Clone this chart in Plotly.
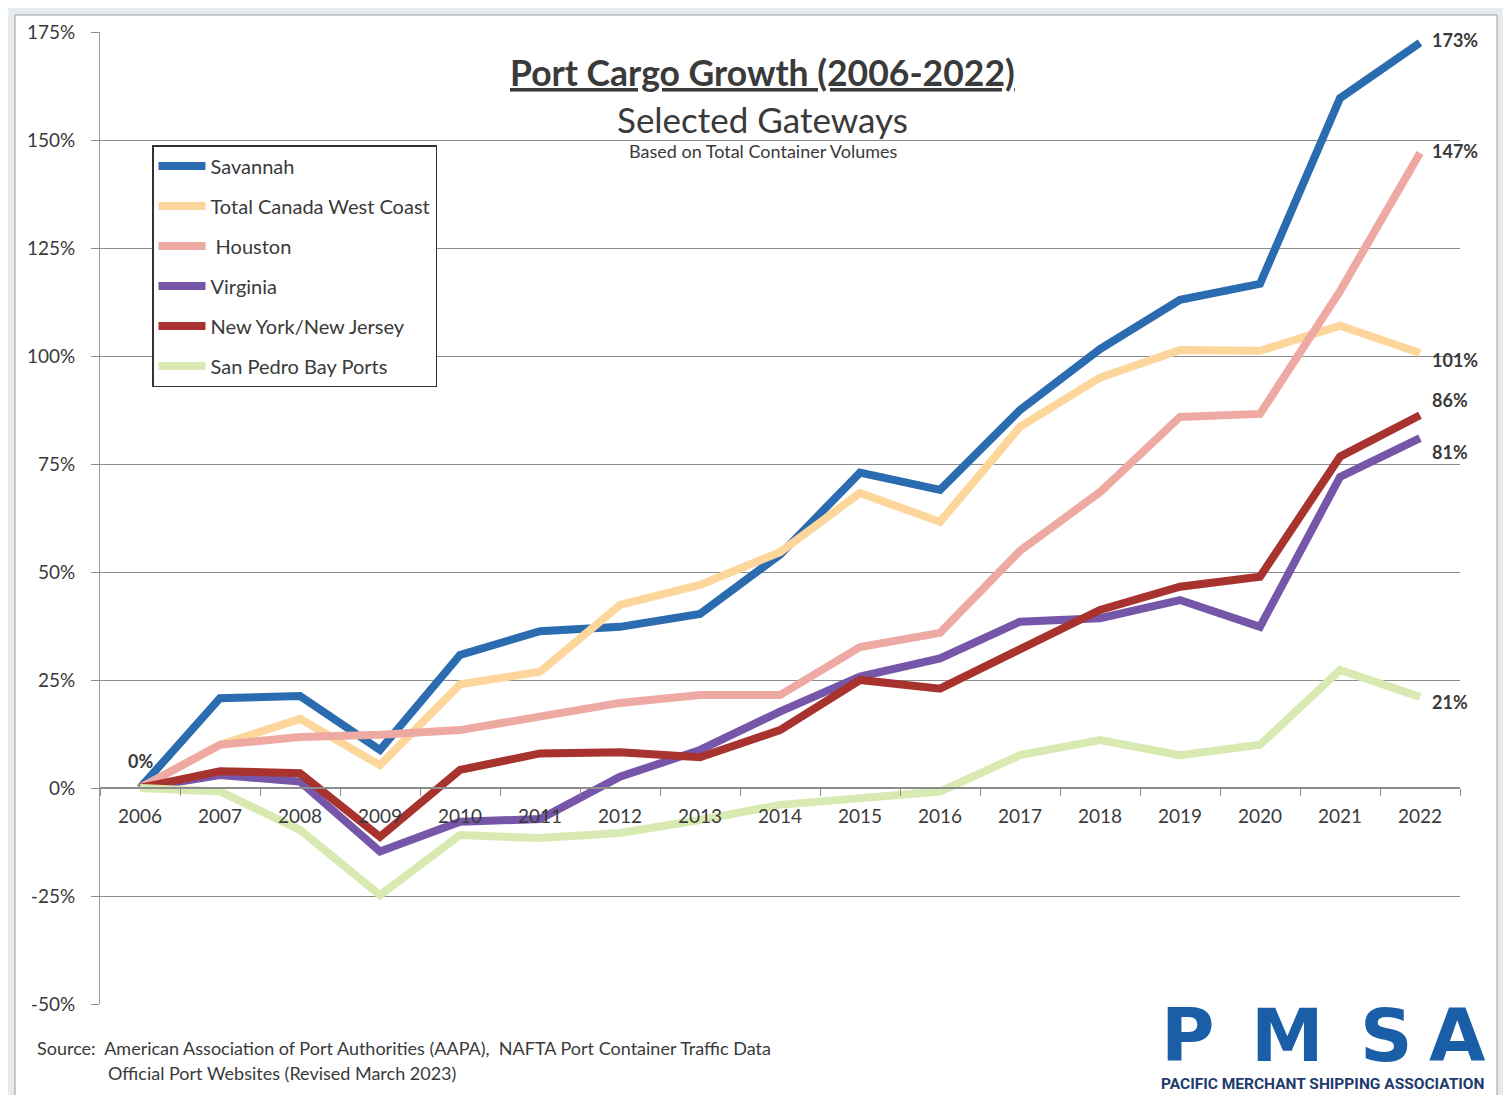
import plotly.graph_objects as go

years = [str(y) for y in range(2006, 2023)]

savannah = [0, 20.8, 21.3, 8.8, 30.8, 36.3, 37.3, 40.3, 54.0, 73.0, 69.0, 87.5, 101.6, 113.0, 116.7, 159.7, 172.5]
canada = [0, 10.0, 16.0, 5.3, 24.0, 26.9, 42.4, 47.0, 54.6, 68.3, 61.6, 83.6, 95.0, 101.4, 101.2, 107.0, 100.7]
houston = [0, 10.0, 11.8, 12.3, 13.4, 16.4, 19.7, 21.5, 21.5, 32.6, 35.9, 54.9, 68.5, 85.9, 86.6, 115.0, 147.0]
virginia = [0, 3.0, 1.5, -14.7, -7.8, -7.2, 2.6, 8.8, 17.7, 25.8, 30.0, 38.5, 39.3, 43.5, 37.3, 72.0, 81.0]
nynj = [0, 3.9, 3.4, -11.3, 4.2, 8.0, 8.3, 7.1, 13.4, 25.0, 23.0, 32.3, 41.2, 46.6, 48.9, 76.7, 86.3]
san_pedro = [0, -0.8, -9.7, -24.8, -10.9, -11.6, -10.4, -7.4, -3.9, -2.4, -0.8, 7.6, 11.1, 7.6, 10.0, 27.3, 21.1]

series_names = ["Savannah", "Total Canada West Coast", " Houston", "Virginia",
                "New York/New Jersey", "San Pedro Bay Ports"]
series_values = [savannah, canada, houston, virginia, nynj, san_pedro]
series_colors = ["#2b6cb0", "#fdd69c", "#eea9a2", "#7656a8", "#a8322e", "#d9e9b2"]

end_labels = ["173%", "101%", "147%", "81%", "86%", "21%"]
end_shift = [3, -7, 2, -14, 15, -5]

tick_vals = [-50, -25, 0, 25, 50, 75, 100, 125, 150, 175]
tick_text = ["-50%", "-25%", "0%", "25%", "50%", "75%", "100%", "125%", "150%", "175%"]

OFF = 8  # page body margin
W, H = 1511 - OFF, 1095 - OFF
# plot area in reference-page pixels
L, R, T, B = 100, 1460, 32, 1004


def px(xp):
    return (xp - L) / (R - L)


def py(yp):
    return (B - yp) / (B - T)


FONT = "Lato, 'Open Sans', sans-serif"
TXT = "#3a3a3a"

fig = go.Figure()
for i, (name, vals, col) in enumerate(zip(series_names, series_values, series_colors)):
    fig.add_trace(go.Scatter(
        x=years, y=vals, mode="lines", name=name,
        line=dict(color=col, width=8), legendgroup=f"g{i}",
        hoverinfo="skip", cliponaxis=False,
    ))

last = len(years) - 1
annotations = []
for vals, lab, sh in zip(series_values, end_labels, end_shift):
    annotations.append(dict(x=last, y=vals[-1], xref="x", yref="y", text=f"<b>{lab}</b>",
                            showarrow=False, xanchor="left", xshift=10, yshift=sh,
                            font=dict(family=FONT, size=18, color=TXT)))
annotations.append(dict(x=0, y=0, xref="x", yref="y", text="<b>0%</b>",
                        showarrow=False, xanchor="center", yshift=27,
                        font=dict(family=FONT, size=18, color=TXT)))

annotations += [
    dict(x=px(762), y=py(72), xref="paper", yref="paper",
         text="<b><u>Port Cargo Growth (2006-2022)</u></b>", showarrow=False,
         font=dict(family=FONT, size=35.5, color=TXT), xanchor="center", yanchor="middle"),
    dict(x=px(762), y=py(119), xref="paper", yref="paper",
         text="Selected Gateways", showarrow=False,
         font=dict(family=FONT, size=35, color=TXT), xanchor="center", yanchor="middle"),
    dict(x=px(763), y=py(151), xref="paper", yref="paper",
         text="Based on Total Container Volumes", showarrow=False,
         font=dict(family=FONT, size=18, color=TXT), xanchor="center", yanchor="middle"),
    dict(x=px(35), y=py(1048), xref="paper", yref="paper",
         text="Source:  American Association of Port Authorities (AAPA),  NAFTA Port Container Traffic Data",
         showarrow=False, font=dict(family=FONT, size=18, color=TXT), xanchor="left", yanchor="middle"),
    dict(x=px(106), y=py(1073), xref="paper", yref="paper",
         text="Official Port Websites (Revised March 2023)",
         showarrow=False, font=dict(family=FONT, size=18, color=TXT), xanchor="left", yanchor="middle"),
]

# PMSA logo letters
for letter, cx in zip("PMSA", [1188, 1287, 1386, 1457]):
    annotations.append(dict(x=px(cx), y=py(1035), xref="paper", yref="paper", text=f"<b>{letter}</b>",
                            showarrow=False, xanchor="center", yanchor="middle",
                            font=dict(family="'DejaVu Sans', sans-serif", size=73, color="#1b5ea8")))
annotations.append(dict(x=px(1322), y=py(1084), xref="paper", yref="paper",
                        text="<b>PACIFIC MERCHANT SHIPPING ASSOCIATION</b>", showarrow=False,
                        xanchor="center", yanchor="middle",
                        font=dict(family="Roboto, sans-serif", size=15.5, color="#1f3b6e")))

shapes = [
    dict(type="rect", xref="paper", yref="paper", x0=px(15), x1=px(1497), y0=py(1110), y1=py(15),
         fillcolor="white", line=dict(color="#9a9a9a", width=1), layer="below"),
]

fig.update_layout(
    width=W, height=H,
    margin=dict(l=L - OFF, r=(W + OFF) - R, t=T - OFF, b=(H + OFF) - B),
    paper_bgcolor="#e6ebf0", plot_bgcolor="white",
    font=dict(family=FONT, color=TXT),
    showlegend=True,
    legend=dict(x=px(152), y=py(145), xanchor="left", yanchor="top",
                bordercolor="#333333", borderwidth=1.5, bgcolor="white",
                font=dict(family=FONT, size=20, color=TXT),
                tracegroupgap=11, itemwidth=47, traceorder="grouped"),
    xaxis=dict(type="category", categoryorder="array", categoryarray=years,
               range=[-0.5, 16.5], anchor="free", position=py(788),
               showline=True, linecolor="#8c8c8c", linewidth=1.5,
               ticks="outside", tickson="boundaries", ticklen=7, tickcolor="#8c8c8c",
               showgrid=False, tickfont=dict(family=FONT, size=19, color=TXT),
               ticklabelstandoff=11, fixedrange=True),
    yaxis=dict(range=[-50, 175], tickvals=tick_vals, ticktext=tick_text,
               showgrid=True, gridcolor="#8c8c8c", gridwidth=1, zeroline=False,
               showline=True, linecolor="#9a9a9a", linewidth=1,
               ticks="outside", ticklen=8, tickcolor="#8c8c8c",
               tickfont=dict(family=FONT, size=19, color=TXT),
               ticklabelstandoff=12, fixedrange=True),
    annotations=annotations,
    shapes=shapes,
)

fig.write_html("out.html")
